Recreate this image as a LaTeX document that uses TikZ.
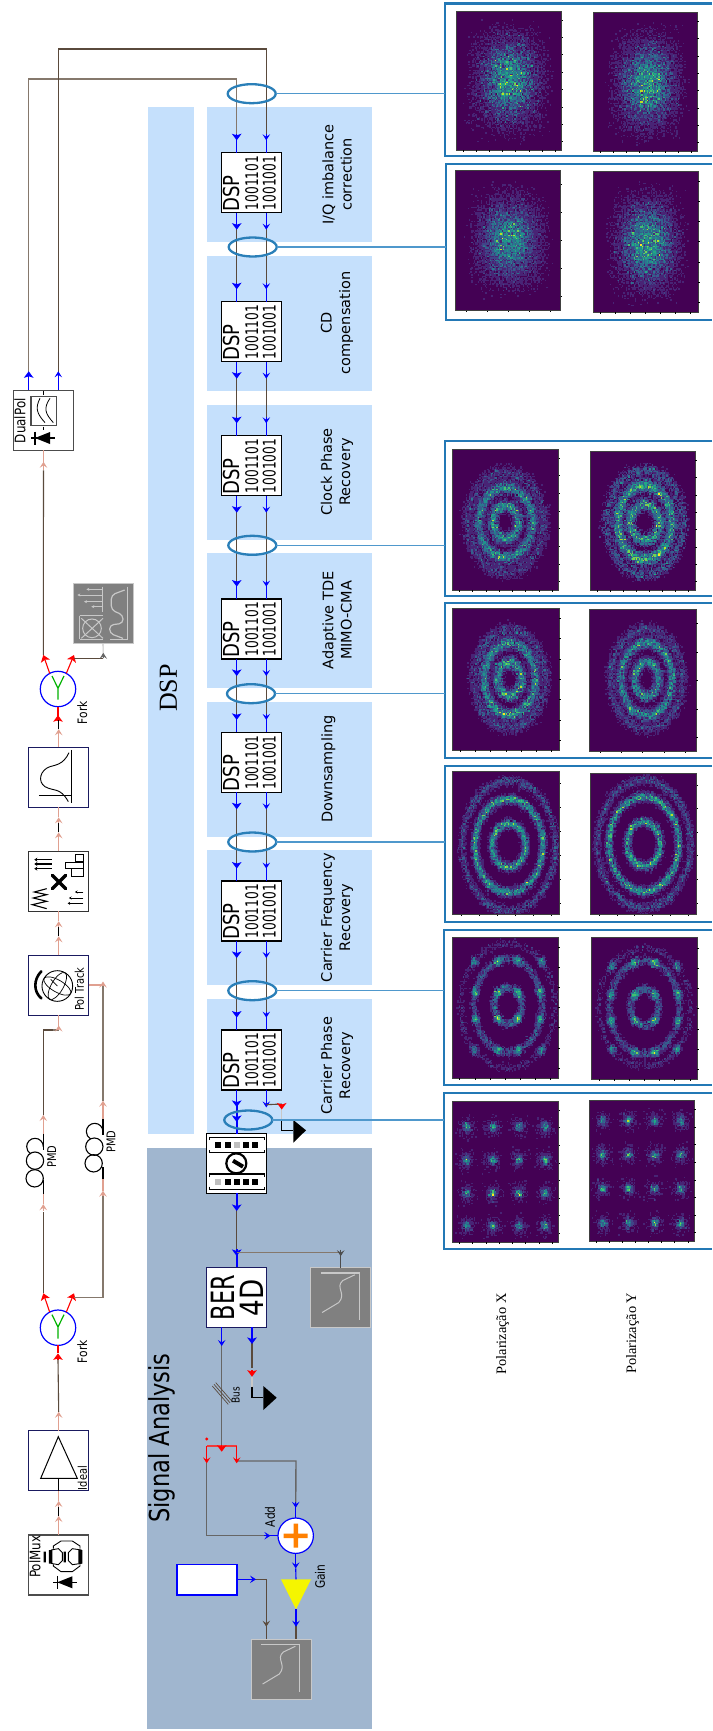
\documentclass[tikz,border=0pt]{standalone}
\usepackage{fontspec}
\usetikzlibrary{arrows.meta,calc,shapes.geometric}
\setmainfont{DejaVu Sans}
\newfontfamily\fontNA[FakeStretch=0.7]{DejaVu Sans}
\newfontfamily\fontNB[FakeStretch=0.82]{DejaVu Sans}
\newfontfamily\fontSR{Liberation Serif}
\newcommand\fsz[1]{\fontsize{#1pt}{18.3pt}\selectfont}
\definecolor{bandblue}{HTML}{C5E0FC}
\definecolor{sigbg}{HTML}{A0B6CF}
\definecolor{ellc}{HTML}{2A7FB8}
\definecolor{linkc}{HTML}{4F98CC}
\definecolor{framec}{HTML}{2378B5}
\definecolor{wirebr}{HTML}{5A4A3C}
\definecolor{wirelt}{HTML}{85786C}
\definecolor{salm}{HTML}{E0A090}
\definecolor{wiregr}{HTML}{666666}
\definecolor{navyb}{HTML}{1A1A60}
\definecolor{vir0}{HTML}{440154}
\definecolor{grayb}{HTML}{808080}
\definecolor{grayl}{HTML}{C8C8C8}
\definecolor{redl}{HTML}{F03A3A}
\definecolor{gainy}{HTML}{F5F500}
\makeatletter
\def\hmraw#1{\pgfsys@invoke{#1}}
\def\hmstrip#1{\expandafter\strip@pt\dimexpr#1\relax}
\makeatother
% small random generator (Park-Miller by Schrage)
\newcount\hmrnd \hmrnd=20240607
\newcount\hmrndh
\def\nextrnd{\hmrndh=\numexpr(\hmrnd-63886)/127773\relax
 \hmrnd=\numexpr16807*(\hmrnd-\hmrndh*127773)-2836*\hmrndh\relax
 \ifnum\hmrnd<0 \advance\hmrnd 2147483647 \fi}
\newcount\hmXo \newcount\hmYo \newcount\hmW \newcount\hmH \newcount\hmMax
\newcount\hmsx \newcount\hmsy \newcount\hmbi \newcount\hmbj \newcount\hmbk
\newcount\hmgA \newcount\hmgB \newcount\hmN \newcount\hmCx \newcount\hmCy
\newcount\hmRa \newcount\hmRb \newcount\hmRc \newcount\hmRd \newcount\hmRe \newcount\hmRf
\newcount\hmsel \newcount\hmth \newcount\hmcsel \newcount\hmrx \newcount\hmry \newcount\hmkind
\newcount\hmlev \newcount\hmGi \newcount\hmGj
\def\hmgauss#1{\nextrnd #1=\numexpr\hmrnd/2097152\relax
  \nextrnd\advance#1 by \numexpr\hmrnd/2097152\relax
  \nextrnd\advance#1 by \numexpr\hmrnd/2097152-1536\relax}
\def\hmadd{%
 \hmbi=\numexpr\hmsx*8/\hmW\relax
 \hmbj=\numexpr\hmsy*10/\hmH\relax
 \ifnum\hmsx<0 \else\ifnum\hmsy<0 \else\ifnum\hmbi<80 \ifnum\hmbj<100
   \hmbk=\numexpr22000+\hmbi+80*\hmbj\relax
   \advance\count\hmbk 1
   \ifnum\count\hmbk>\hmMax \hmMax=\count\hmbk\fi
 \fi\fi\fi\fi}
\newcommand\hmsig[3]{\def\hmsigX{#1}\def\hmsigY{#2}\def\hmconc{#3}}
\newcommand\hmblob[5]{\hmN=#1 \hmCx=#2 \hmCy=#3 \hmsig{#4}{#5}{0}\hmblobloop}
\def\hmblobloop{\ifnum\hmN>0 \advance\hmN -1
  \hmgauss\hmgA \hmgauss\hmgB
  \hmsx=\numexpr(\hmCx-\hmXo)*10+\hmsigX*\hmgA/51\relax
  \hmsy=\numexpr(\hmCy-\hmYo)*10+\hmsigY*\hmgB/51\relax
  \hmadd \expandafter\hmblobloop\fi}
\newcommand\hmrings[9]{\hmN=#1 \hmCx=#2 \hmCy=#3 \hmRa=#4 \hmRb=#5 \hmRc=#6 \hmRd=#7 \hmRe=#8 \hmRf=#9 \hmringloop}
\def\hmringloop{\ifnum\hmN>0 \advance\hmN -1
  \nextrnd \hmsel=\numexpr\hmrnd/21474836\relax
  \nextrnd \hmth=\numexpr\hmrnd/33554432\relax
  \nextrnd \hmcsel=\numexpr\hmrnd/21474836\relax
  \nextrnd
  \ifnum\hmsel<25 \hmrx=\hmRa \hmry=\hmRb \hmkind=1
  \else\ifnum\hmsel<75 \hmrx=\hmRc \hmry=\hmRd \hmkind=2
  \else \hmrx=\hmRe \hmry=\hmRf \hmkind=1 \fi\fi
  \ifnum\hmcsel<\hmconc\relax
    \hmth=\numexpr8+16*((\hmth-8)/16)\relax
    \ifnum\hmkind=2 \ifnum\hmrnd<1073741824 \advance\hmth 5 \else\advance\hmth -5 \fi\fi
  \fi
  \hmth=\numexpr\hmth+64\relax
  \hmth=\numexpr\hmth-64*((\hmth-32)/64)\relax
  \hmgauss\hmgA \hmgauss\hmgB
  \hmsx=\numexpr(\hmCx-\hmXo)*10+\hmrx*\count\numexpr21000+\hmth\relax/100+\hmsigX*\hmgA/51\relax
  \hmsy=\numexpr(\hmCy-\hmYo)*10+\hmry*\count\numexpr21048+\hmth\relax/100+\hmsigY*\hmgB/51\relax
  \hmadd \expandafter\hmringloop\fi}
\newcommand\hmgrid[5]{\hmN=#1 \def\hmgx{#2}\def\hmgy{#3}\def\hmdx{#4}\def\hmdy{#5}\hmgridloop}
\def\hmgridloop{\ifnum\hmN>0 \advance\hmN -1
  \nextrnd \hmGi=\numexpr(\hmrnd-268435456)/536870912\relax
  \nextrnd \hmGj=\numexpr(\hmrnd-268435456)/536870912\relax
  \nextrnd \hmsel=\numexpr\hmrnd/21474836\relax
  \ifnum\hmsel<60 \hmsig{20}{24}{0}\else\hmsig{45}{50}{0}\fi
  \hmgauss\hmgA \hmgauss\hmgB
  \hmsx=\numexpr(\hmgx+\hmGi*\hmdx-\hmXo)*10+\hmsigX*\hmgA/51\relax
  \hmsy=\numexpr(\hmgy+\hmGj*\hmdy-\hmYo)*10+\hmsigY*\hmgB/51\relax
  \hmadd \expandafter\hmgridloop\fi}
\expandafter\def\csname hmc0\endcsname{.267 .005 .329 rg}
\expandafter\def\csname hmc1\endcsname{.282 .141 .459 rg}
\expandafter\def\csname hmc2\endcsname{.255 .267 .529 rg}
\expandafter\def\csname hmc3\endcsname{.208 .373 .553 rg}
\expandafter\def\csname hmc4\endcsname{.165 .471 .557 rg}
\expandafter\def\csname hmc5\endcsname{.129 .569 .549 rg}
\expandafter\def\csname hmc6\endcsname{.133 .659 .518 rg}
\expandafter\def\csname hmc7\endcsname{.267 .749 .439 rg}
\expandafter\def\csname hmc8\endcsname{.478 .82 .318 rg}
\expandafter\def\csname hmc9\endcsname{.741 .875 .149 rg}
\expandafter\def\csname hmc10\endcsname{.992 .906 .145 rg}
\def\hmrowloop{%
 \ifnum\hmbi<80
   \hmbk=\numexpr22000+\hmbi+80*\hmbj\relax
   \ifnum\count\hmbk>0
      \hmlev=\numexpr\count\hmbk*10/\hmMax\relax
      \ifnum\hmlev>0
      \edef\hmbuf{\hmbuf\space\csname hmc\the\hmlev\endcsname\space\the\hmbi\space\the\hmbj\space 1.06 1.06 re f}%
      \fi
      \count\hmbk=0
   \fi
   \advance\hmbi 1
   \expandafter\hmrowloop
 \fi}
\def\hmloop{%
 \ifnum\hmbj<100
   \hmbi=0 \edef\hmbuf{q \hmcm\space cm}%
   \hmrowloop
   \hmraw{\hmbuf\space Q}%
   \advance\hmbj 1
   \expandafter\hmloop
 \fi}
% panel: corners in tenths of a pixel, tick counts
\newcommand\hmpanel[6]{%
 \def\pxa{#1}\def\pya{#2}\def\pxb{#3}\def\pyb{#4}\def\pnb{#5}\def\pnr{#6}%
 \hmXo=#1 \hmYo=#2 \hmW=\numexpr#3-#1\relax \hmH=\numexpr#4-#2\relax \hmMax=0
 \fill[vir0] ({#1/10},{#2/10}) rectangle ({#3/10},{#4/10});}
\newcommand\hmdone{%
 \edef\hmcm{\hmstrip{\hmW pt*99626/80000000} 0 0 -\hmstrip{\hmH pt*99626/100000000} \hmstrip{\hmXo pt*99626/1000000} -\hmstrip{\hmYo pt*99626/1000000}}%
 \hmbj=0 \hmloop
 \draw[black!75!white,line width=.7pt] ({\pxa/10},{\pya/10}) rectangle ({\pxb/10},{\pyb/10});
 \foreach \k in {1,...,\pnb} \draw[black,line width=.4pt] ({(\pxa+(\pxb-\pxa)*(\k-.5)/\pnb)/10},{\pyb/10}) -- ++(0,1.6);
 \foreach \k in {1,...,\pnr} \draw[black,line width=.4pt] ({\pxb/10},{(\pya+(\pyb-\pya)*(\k-.5)/\pnr)/10}) -- ++(1.6,0);
}
\tikzset{
 bigh/.style={-{Stealth[length=6.5pt,width=9.5pt,inset=1.5pt]}},
 smh/.style={-{Stealth[length=6pt,width=7.5pt,inset=2.5pt]}},
 wt/.style={line width=1.1pt},
 blkbox/.style={draw=#1,fill=white,line width=1.1pt,minimum size=60pt,inner sep=0pt,outer sep=0pt},
 graybox/.style={draw=grayl,fill=grayb,line width=1pt,minimum size=60pt,inner sep=0pt,outer sep=0pt},
 band/.style={fill=bandblue,draw=none},
 fr/.style={draw=framec,line width=2.3pt,line join=miter},
 ell/.style={ellipse,draw=ellc,line width=2.3pt,minimum width=48pt,minimum height=19pt,inner sep=0pt,outer sep=0pt},
 lnk/.style={draw=linkc,line width=1.2pt},
 rt/.style={rotate=90,inner sep=0pt,outer sep=0pt},
 steplabel/.style={rt,align=center,font=\fsz{14.5}},
 forkc/.style={circle,draw=blue,fill=white,line width=1.2pt,minimum size=35.4pt,inner sep=0pt,outer sep=0pt},
 ic/.style={line width=1pt,black},
 igl/.style={line width=1pt,grayl},
}
% double-arrow salmon link
\newcommand\twohead[2]{%
 \draw[salm,wt,smh] (#1) -- ($(#1)+(0,-19)$);
 \draw[black,wt] ($(#1)+(0,-19)$) -- ($(#1)+(0,-28)$);
 \draw[salm,wt,smh] ($(#1)+(0,-28)$) -- ($(#1)+(0,-34)$);
 \draw[salm,wt] ($(#1)+(0,-34)$) -- (#2);
}
\newcommand\dspblock[2]{%
 \node[blkbox=black] (dsp#1) at (251.3,#2+30) {};
 \coordinate (dsp#1ai) at ($(dsp#1.north)+(-14.6,0)$);
 \coordinate (dsp#1bi) at ($(dsp#1.north)+(15,0)$);
 \coordinate (dsp#1ao) at ($(dsp#1.south)+(-14.6,0)$);
 \coordinate (dsp#1bo) at ($(dsp#1.south)+(15,0)$);
 \node[rt,font=\fontNB\fsz{22}] (dsp#1t) at (231.7,#2+40.7) {DSP};
 \node[rt,font=\fontNA\fsz{17.4}] (dsp#1u) at (251.7,#2+30.3) {1001101};
 \node[rt,font=\fontNA\fsz{17.4}] (dsp#1v) at (269.3,#2+30.3) {1001001};
}
\newcommand\dspin[1]{%
 \draw[blue,wt] ($(dsp#1ai)+(0,-18)$) -- (dsp#1ai);
 \draw[blue,wt] ($(dsp#1bi)+(0,-18)$) -- (dsp#1bi);
 \draw[blue,wt,bigh] ($(dsp#1ai)+(0,-18.5)$) -- ($(dsp#1ai)+(0,-12.4)$);
 \draw[blue,wt,smh] ($(dsp#1bi)+(0,-18.5)$) -- ($(dsp#1bi)+(0,-12.4)$);
}
\newcommand\dsplink[2]{%
 \draw[wirebr,wt] ($(dsp#1ao)+(0,12)$) -- ($(dsp#2ai)+(0,-18)$);
 \draw[wirebr,wt] ($(dsp#1bo)+(0,12)$) -- ($(dsp#2bi)+(0,-18)$);
 \draw[blue,wt,bigh] (dsp#1ao) -- ($(dsp#1ao)+(0,17)$);
 \draw[blue,wt,smh] (dsp#1bo) -- ($(dsp#1bo)+(0,17)$);
 \dspin{#2}
}
\newcommand\curvepic[1]{%
 \draw[igl,line width=1.2pt] ($(#1.north west)+(10,5.5)$) -- ($(#1.north west)+(48.3,5.5)$) -- ($(#1.north west)+(48.3,52.5)$);
 \draw[igl] ($(#1.north west)+(11.3,45)$) -- ($(#1.north west)+(28,35)$) .. controls ($(#1.north west)+(36,26)$) and ($(#1.north west)+(24,20)$) .. ($(#1.north west)+(32,13)$) -- ($(#1.north west)+(44,7.3)$);
}
\newcommand\diode[2]{% centre of the bar x, y
 \draw[black,line width=1.2pt] (#1-4,#2) -- (#1+20,#2);
 \draw[black,line width=1.6pt] (#1,#2-6.5) -- (#1,#2+6.5);
 \fill[black] (#1,#2) -- (#1+15,#2-6) -- (#1+15,#2+6) -- cycle;
}
\begin{document}
\begin{tikzpicture}[x=1pt,y=-1pt]
\useasboundingbox (0,0) rectangle (712,1731);
\foreach \i in {0,...,127}{\pgfmathtruncatemacro\hmv{1000*cos(\i*5.625)}\global\count\numexpr21000+\i\relax=\hmv\relax}
% ---- background bands
\fill[band] (148,107) rectangle (194,1133.7);
\fill[band] (207,107) rectangle (372,241.7);
\fill[band] (207,256) rectangle (372,390.7);
\fill[band] (207,405) rectangle (372,539.7);
\fill[band] (207,553) rectangle (372,687.7);
\fill[band] (207,702) rectangle (372,836.7);
\fill[band] (207,850) rectangle (372,984.7);
\fill[band] (207,999) rectangle (372,1133.7);
\fill[sigbg] (147,1148) rectangle (372,1729);
\node[rt,font=\fontSR\fsz{26}] (dsptitle) at (168.3,688) {DSP};
\node[rt,font=\fontNB\fsz{27.5}] (sigtitle) at (161.7,1438) {Signal Analysis};
\node[steplabel] (lb1) at (337,174.5) {I/Q imbalance\\correction};
\node[steplabel] (lb2) at (337,323) {CD\\compensation};
\node[steplabel] (lb3) at (337,472) {Clock Phase\\Recovery};
\node[steplabel] (lb4) at (337,620.5) {Adaptive TDE\\MIMO-CMA};
\node[steplabel] (lb5) at (328.3,769) {Downsampling};
\node[steplabel] (lb6) at (337,917.5) {Carrier Frequency\\Recovery};
\node[steplabel] (lb7) at (337,1065.7) {Carrier Phase\\Recovery};
% ---- DSP blocks
\dspblock{1}{152.7}
\dspblock{2}{301.7}
\dspblock{3}{435.7}
\dspblock{4}{599}
\dspblock{5}{732.3}
\dspblock{6}{881}
\dspblock{7}{1030}
\dsplink{1}{2}
\dsplink{2}{3}
\dsplink{3}{4}
\dsplink{4}{5}
\dsplink{5}{6}
\dsplink{6}{7}
% ---- front-end blocks
\node[blkbox=black!70] (dualpol) at (43.5,420.3) {};
\node[blkbox=navyb] (filter) at (58.7,777.2) {};
\node[blkbox=black!80] (mixer) at (58.7,881.4) {};
\node[blkbox=navyb] (poltrack) at (58.7,985.3) {};
\node[blkbox=navyb] (amp) at (58.7,1460.8) {};
\node[blkbox=black!70] (polmux) at (58.7,1565) {};
\node[forkc] (fork2) at (58,689) {};
\node[forkc] (fork1) at (58,1327.7) {};
\node[graybox] (spect) at (103,613.7) {};
% outputs of the receiver to the first DSP
\coordinate (dpa) at ($(dualpol.north)+(-14.8,0)$);
\coordinate (dpb) at ($(dualpol.north)+(14.8,0)$);
\coordinate (turna) at (236.7,79);
\coordinate (turnb) at (266.3,49);
\draw[wirelt,line width=1.4pt] ($(dpa)+(0,-14)$) |- (turna) -- ($(dsp1ai)+(0,-18)$);
\draw[wirebr,wt] ($(dpb)+(0,-14)$) |- (turnb) -- ($(dsp1bi)+(0,-18)$);
\draw[blue,wt,bigh] (dpa) -- ($(dpa)+(0,-19)$);
\draw[blue,wt,smh] (dpb) -- ($(dpb)+(0,-19)$);
\dspin{1}
% fork 2 to receiver and spectrum
\coordinate (f2l) at (43.3,655);
\coordinate (f2r) at (74,655);
\coordinate (f2rc) at (103.3,658.3);
\draw[wirebr,wt] (f2l) -- ($(dualpol.south)+(0,20)$);
\draw[salm,wt,smh] ($(dualpol.south)+(0,20)$) -- ($(dualpol.south)+(0,11.5)$);
\draw[salm,wt] ($(dualpol.south)+(0,11.5)$) -- (dualpol.south);
\draw[red,wt,bigh] (fork2.118) -- (f2l);
\draw[red,wt,bigh] (fork2.62) -- (f2r);
\draw[wirebr,wt] (f2r |- f2rc) -- (f2rc);
\draw[grayl,wt] (f2rc) -- (spect.south);
\draw[wiregr,wt,smh] (f2rc) -- ($(f2rc)+(0,-5.5)$);
\draw[red,wt] ($(fork2.south)+(0,9)$) -- (fork2.south);
\draw[red,wt,bigh] ($(fork2.south)+(0,14.5)$) -- ($(fork2.south)+(0,8.5)$);
\draw[black,wt] ($(filter.north)+(0,-18)$) -- ($(filter.north)+(0,-27)$);
\draw[salm,wt,smh] (filter.north) -- ($(filter.north)+(0,-18)$);
\twohead{mixer.north}{filter.south}
\twohead{poltrack.north}{mixer.south}
\twohead{polmux.north}{amp.south}
% amp to fork 1
\draw[salm,wt,smh] (amp.north) -- ($(amp.north)+(0,-19)$);
\draw[wirebr,wt] ($(amp.north)+(0,-19)$) -- ($(fork1.south)+(0,14.5)$);
\draw[red,wt,bigh] ($(fork1.south)+(0,14.5)$) -- ($(fork1.south)+(0,8)$);
\draw[red,wt] ($(fork1.south)+(0,8)$) -- (fork1.south);
% fork 1 branches through the two PMD coils
\coordinate (f1l) at (43.3,1293.3);
\coordinate (f1r) at (74,1293.3);
\coordinate (c1b) at (43.3,1192.7);
\coordinate (c1t) at (43.3,1134);
\coordinate (c2b) at (103,1178);
\coordinate (c2t) at (103,1119);
\coordinate (ptin) at (58.7,1030);
\coordinate (ptr) at (103,985);
\coordinate (f1rc) at (103,1297.3);
\draw[wirebr,wt] (f1l) -- ($(c1b)+(0,19)$);
\draw[salm,wt,smh] ($(c1b)+(0,18)$) -- ($(c1b)+(0,11.5)$);
\draw[salm,wt] ($(c1b)+(0,11.5)$) -- (c1b);
\draw[red,wt,bigh] (fork1.118) -- (f1l);
\draw[red,wt,bigh] (fork1.62) -- (f1r);
\draw[wirelt,line width=1.4pt] (f1r |- f1rc) -- (f1rc) -- ($(c2b)+(0,18)$);
\draw[salm,wt,smh] ($(c2b)+(0,18)$) -- ($(c2b)+(0,12.7)$);
\draw[salm,wt] ($(c2b)+(0,12.7)$) -- (c2b);
\draw[salm,wt] (c1t) -- ($(c1t)+(0,-12)$);
\draw[salm,wt,smh] ($(c1t)+(0,-12)$) -- ($(c1t)+(0,-19)$);
\draw[wirebr,wt] ($(c1t)+(0,-19)$) |- ($(ptin)+(-6,0)$);
\draw[wirelt,line width=1.4pt] ($(ptin)+(-6,0)$) -- (ptin);
\draw[salm,wt,smh] (ptin) -- ($(ptin)+(0,-4.5)$);
\draw[salm,wt] ($(ptin)+(0,-4.5)$) -- (poltrack.south);
\draw[salm,wt] (c2t) -- ($(c2t)+(0,-13)$);
\draw[salm,wt,smh] ($(c2t)+(0,-12)$) -- ($(c2t)+(0,-18.3)$);
\draw[wirelt,line width=1.4pt] ($(c2t)+(0,-18.3)$) -- (ptr);
\draw[salm,wt] (ptr) -- (poltrack.east |- ptr);
\draw[salm,wt,smh] (ptr) -- ($(ptr)+(0,-3.5)$);
% coils
\begin{scope}[shift={(0,950)},x=.3333pt,y=-.3333pt]
 \draw[black,line width=1.1pt] (130,732) -- (130,690) (130,552) -- (130,600);
 \draw[black,line width=1.1pt] (104,685) circle[radius=26];
 \draw[black,line width=1.1pt] (105,632) circle[radius=26];
 \draw[black,line width=1.1pt] (130,590) arc (0:-240:25);
 \draw[black,line width=1.1pt] (309,686) -- (309,650) (309,508) -- (309,555);
 \draw[black,line width=1.1pt] (281,640) circle[radius=26];
 \draw[black,line width=1.1pt] (283,590) circle[radius=26];
 \draw[black,line width=1.1pt] (309,545) arc (0:-240:25);
\end{scope}
\node[rt,font=\fontNB\fsz{12}] (pmd1) at (51.7,1156.7) {PMD};
\node[rt,font=\fontNB\fsz{12}] (pmd2) at (111,1141.7) {PMD};
% fork glyphs
\draw[green!70!black,line width=1.2pt] (52,1314.7) -- (58,1327) -- (64,1314.7) (58,1327) -- (58,1338.7);
\draw[green!70!black,line width=1.2pt] (52,676) -- (58,688.3) -- (64,676) (58,688.3) -- (58,699.7);
\node[rt,font=\fontNB\fsz{13}] (fk1) at (82.3,1351.7) {Fork};
\node[rt,font=\fontNB\fsz{13}] (fk2) at (82.3,712.7) {Fork};
% DualPol icon
\begin{scope}[shift={(0,0)},x=.3333pt,y=-.3333pt]
 \draw[black!70,line width=1.1pt] (93,1190) rectangle (169,1277);
 \draw[black,line width=.8pt] (131,1174) -- (131,1186) (131,1280) -- (131,1290);
 \draw[black,line width=.8pt] (120,1195) .. controls (105,1225) and (110,1240) .. (135,1268);
 \draw[black,line width=.8pt] (150,1195) .. controls (130,1225) and (135,1240) .. (160,1268);
\end{scope}
\diode{35}{438}
\node[rt,font=\fontNB\fsz{14.5}] (dptx) at (20,420.7) {DualPol};
% filter icon
\begin{scope}[shift={(0,500)},x=.3333pt,y=-.3333pt]
 \draw[black,line width=.9pt] (213,750) -- (213,908) (117,885) -- (213,885);
 \draw[black,line width=.9pt] (207,758) .. controls (190,795) and (165,795) .. (150,800) .. controls (120,810) and (112,845) .. (135,860) .. controls (160,875) and (180,860) .. (205,905);
\end{scope}
% mixer icon
\begin{scope}[shift={(25,848)},x=.3333pt,y=-.3333pt]
 \draw[black,line width=1.6pt,-{Stealth[length=3pt,width=4pt]}] (80,35) -- (28,35);
 \draw[black,line width=1.6pt,-{Stealth[length=3pt,width=4pt]}] (80,48) -- (28,48);
 \draw[black,line width=1.6pt,-{Stealth[length=3pt,width=4pt]}] (80,62) -- (28,62);
 \draw[black,line width=.9pt] (150,20) rectangle (175,40) (122,42) rectangle (175,62) (140,62) rectangle (175,85);
 \draw[black,line width=3.2pt,line cap=round] (82,82) -- (122,122) (82,122) -- (122,82);
 \draw[black,line width=1.1pt] (65,122) -- (28,132) -- (65,140) -- (25,150) -- (65,160) -- (22,170) -- (65,182);
 \draw[black,line width=.9pt,-{Stealth[length=2.5pt,width=3pt]}] (175,132) -- (150,132);
 \draw[black,line width=.9pt,-{Stealth[length=2.5pt,width=3pt]}] (175,150) -- (132,150);
 \draw[black,line width=.9pt,-{Stealth[length=2.5pt,width=3pt]}] (175,166) -- (128,166);
\end{scope}
% pol track icon
\begin{scope}[shift={(0,950)},x=.3333pt,y=-.3333pt]
 \draw[black,line width=.9pt] (172,108) circle[radius=46];
 \draw[black,line width=.7pt,rotate around={-30:(172,108)}] (172,108) ellipse[x radius=46,y radius=18];
 \draw[black,line width=.7pt,rotate around={-30:(172,108)}] (172,108) ellipse[x radius=18,y radius=46];
 \draw[black,line width=2.6pt,line cap=round] (124,64) .. controls (100,88) and (100,125) .. (124,145);
 \draw[black,line width=.8pt] (172,108) -- (152,88);
\end{scope}
\node[rt,font=\fontNB\fsz{12}] (pttx) at (79.3,989.3) {Pol Track};
% amp icon
\draw[black,line width=1pt] (58.3,1436.7) -- (77.3,1478.3) -- (40.7,1478.3) -- cycle;
\draw[black,line width=1pt] (58.3,1478.3) -- (58.3,1491);
\node[rt,font=\fontNB\fsz{12}] (idl) at (82.3,1478) {Ideal};
% polmux icon
\begin{scope}[shift={(25,1530)},x=.3333pt,y=-.3333pt]
 \draw[black,line width=.9pt] (85,56) -- (85,48) -- (108,33) -- (142,33) -- (165,48) -- (165,56);
 \draw[black,line width=.9pt] (85,103) -- (85,108) -- (108,125) -- (142,125) -- (165,108) -- (165,103);
 \draw[black,line width=.9pt] (78,60) -- (100,56) -- (112,68) -- (112,92) -- (100,104) -- (78,100);
 \draw[black,line width=.9pt] (170,60) -- (142,56) -- (130,68) -- (130,92) -- (142,104) -- (170,100);
 \fill[black] (56,65) rectangle (63,97) (72,60) rectangle (82,101) (116,65) rectangle (123,97) (160,60) rectangle (172,101);
\end{scope}
\diode{57.3}{1582.3}
\node[rt,font=\fontNB\fsz{14.5}] (pmtx) at (35,1556.7) {PolMux};
% spectrum icon
\begin{scope}[shift={(68,580)},x=.3333pt,y=-.3333pt]
 \draw[igl] (105,20) -- (105,95);
 \draw[igl,-{Stealth[length=3pt,width=3pt]}] (105,28) -- (55,28);
 \draw[igl,-{Stealth[length=3pt,width=3pt]}] (105,45) -- (28,45);
 \draw[igl,-{Stealth[length=3pt,width=3pt]}] (105,65) -- (48,65);
 \draw[igl,-{Stealth[length=3pt,width=3pt]}] (105,80) -- (70,80);
 \draw[igl] (35,107) -- (105,107) (35,107) -- (35,178) (35,178) -- (105,178);
 \draw[igl] (72,145) circle[radius=28];
 \draw[igl] (40,115) -- (105,175) (40,175) -- (105,115);
 \draw[igl,line width=1.2pt] (178,20) -- (178,178) -- (125,178);
 \draw[igl,rounded corners=4pt,line width=1.2pt] (170,30) -- (130,45) -- (130,90) -- (165,105) -- (165,130) -- (125,135) -- (125,160) -- (165,175);
\end{scope}
% ---- mux block, BER and analysis chain
\node[blkbox=black] (mux) at (236.8,1163.5) {};
\begin{scope}[shift={(203,1130)},x=.3333pt,y=-.3333pt]
 \draw[black,line width=1.2pt] (20,30) -- (20,22) -- (185,22) -- (185,30);
 \draw[black,line width=1.2pt] (20,60) -- (20,68) -- (185,68) -- (185,60);
 \draw[black,line width=1.2pt] (20,140) -- (20,132) -- (185,132) -- (185,140);
 \draw[black,line width=1.2pt] (20,170) -- (20,178) -- (185,178) -- (185,170);
 \foreach \xx in {45,75,128,157}{\fill[black] (\xx-9,36) rectangle (\xx+9,54);}
 \fill[black!25] (93,36) rectangle (111,54);
 \foreach \xx in {75,102,128,157}{\fill[black] (\xx-9,148) rectangle (\xx+9,166);}
 \fill[black!25] (36,148) rectangle (54,166);
 \draw[black,line width=2.2pt] (100,100) circle[radius=30];
 \draw[black,line width=4pt] (90,92) -- (120,110);
\end{scope}
\node[blkbox=navyb] (ber) at (236.8,1297.3) {};
\node[rt,font=\fontNA\fsz{32}] (bert) at (223,1297.7) {BER};
\node[rt,font=\fontNB\fsz{32}] (berf) at (251.7,1297.7) {4D};
\node[graybox] (sc1) at (340.8,1297.5) {};
\curvepic{sc1}
\node[graybox] (sc2) at (281.3,1669) {};
\curvepic{sc2}
% dsp7 outputs
\coordinate (muxin) at (236.7,1133.5);
\draw[blue,line width=2pt] ($(dsp7ao)+(0,14)$) -- (muxin);
\draw[blue,wt,bigh] (dsp7ao) -- ($(dsp7ao)+(0,17)$);
\draw[blue,wt,bigh] ($(muxin)+(0,-18)$) -- ($(muxin)+(0,-11.5)$);
\draw[blue,wt,smh] (dsp7bo) -- ($(dsp7bo)+(0,17.4)$);
\coordinate (gnd1) at (293.3,1130.3);
\coordinate (rd1) at (281.7,1104);
\draw[wirebr,wt] ($(dsp7bo)+(0,14.7)$) -- (rd1);
\draw[grayl,wt] (rd1) -- ($(rd1)+(0,15)$);
\draw[black,wt] ($(rd1)+(0,15)$) |- (gnd1);
\draw[red,wt,bigh] (rd1) -- ($(rd1)+(0,5.5)$);
\fill[black] (293.3,1120) -- (293.3,1142.7) -- (306,1130.3) -- cycle;
% mux to BER
\coordinate (bern) at (236.7,1267.3);
\coordinate (muxo) at (236.7,1193.3);
\draw[wirebr,wt] ($(muxo)+(0,14)$) -- ($(bern)+(0,-18)$);
\draw[blue,line width=2pt,bigh] (muxo) -- ($(muxo)+(0,17.7)$);
\draw[blue,line width=2pt] ($(bern)+(0,-18)$) -- (bern);
\draw[blue,wt,bigh] ($(bern)+(0,-18)$) -- ($(bern)+(0,-11.3)$);
\coordinate (tap) at (340.7,1252.7);
\draw[wirelt,line width=1.4pt] (muxo |- tap) -- (tap);
\draw[black!70,wt] (tap) -- (sc1.north -| tap);
\draw[black!70,wt,smh] ($(tap)+(0,-3)$) -- ($(tap)+(0,3.5)$);
% BER outputs
\coordinate (bera) at (221.7,1327.3);
\coordinate (berb) at (252,1327.3);
\coordinate (busr) at (221.7,1446);
\coordinate (gnd2) at (263.3,1397.7);
\coordinate (rd2) at (252,1368);
\draw[wiregr,wt] ($(bera)+(0,15)$) -- (busr);
\draw[wirebr,wt] ($(berb)+(0,15)$) -- (rd2);
\draw[blue,wt,smh] (bera) -- ($(bera)+(0,18.7)$);
\draw[blue,line width=1.7pt,bigh] (berb) -- ($(berb)+(0,16.7)$);
\draw[red,wt,bigh] ($(rd2)+(0,2)$) -- ($(rd2)+(0,8.7)$);
\draw[grayl,wt] ($(rd2)+(0,8.7)$) -- ($(rd2)+(0,18.7)$);
\draw[black,wt] ($(rd2)+(0,18.7)$) |- (gnd2);
\fill[black] (263.3,1386) -- (263.3,1410) -- (276.7,1397.7) -- cycle;
\draw[wirebr,line width=.7pt] (214,1384.3) -- (230,1402.7) (215.7,1382.6) -- (231.7,1401) (212.3,1386) -- (228.3,1404.4);
\node[rt,font=\fontNB\fsz{11}] (bustx) at (235.7,1395) {Bus};
% splitter
\coordinate (spl) at (206.7,1463.3);
\coordinate (spr) at (236.7,1463.3);
\coordinate (add1) at (206.7,1535.7);
\coordinate (add2) at (296,1461);
\node[forkc] (adder) at (295.7,1535.7) {};
\fill[orange] (283.7,1533.5) rectangle (307.7,1538) (293.5,1523.7) rectangle (298,1547.7);
\draw[wiregr,line width=1.4pt] (spl) -- (add1) -- ($(adder.west)+(-10,0)$);
\draw[wiregr,line width=1.4pt] (spr |- add2) -- (add2) -- ($(adder.north)+(0,-12)$);
\draw[blue,wt] ($(adder.west)+(-14,0)$) -- (adder.west);
\draw[blue,wt,smh] ($(adder.west)+(-14,0)$) -- ($(adder.west)+(-7.6,0)$);
\draw[blue,wt] ($(adder.north)+(0,-16)$) -- (adder.north);
\draw[blue,wt,smh] ($(adder.north)+(0,-16)$) -- ($(adder.north)+(0,-10.2)$);
\draw[redl,line width=1.4pt] (spl |- busr) -- (spr |- busr);
\draw[red,line width=1.2pt,smh] (spl |- busr) -- (spl);
\draw[red,line width=1.2pt,smh] (spr |- busr) -- (spr);
\draw[red,wt,bigh] ($(busr)+(0,-1)$) -- ($(busr)+(0,5.7)$);
\fill[red] (206.7,1439) circle[radius=1.6];
\node[rt,font=\fontNB\fsz{13}] (addtx) at (270,1516.7) {Add};
% gain
\coordinate (gtop) at (296,1579.3);
\coordinate (gbot) at (296,1609.3);
\fill[gainy] (281,1579.3) -- (311,1579.3) -- (gbot) -- cycle;
\node[rt,font=\fontNB\fsz{13}] (gaintx) at (320,1576.7) {Gain};
\draw[blue,wt,smh] (adder.south) -- ($(adder.south)+(0,15)$);
\draw[blue,wt] ($(adder.south)+(0,15)$) -- (gtop);
\draw[wirebr,wt] ($(gbot)+(0,14)$) -- (sc2.north -| gbot);
\draw[blue,wt] (gbot) -- ($(gbot)+(0,15)$);
\draw[blue,wt,smh] ($(gbot)+(0,11)$) -- ($(gbot)+(0,17.4)$);
% constant box
\node[draw=blue,fill=white,line width=1.4pt,minimum width=60pt,minimum height=30.3pt,inner sep=0pt,outer sep=0pt] (cst) at (207,1579.8) {};
\coordinate (cstw) at (266.3,1579.3);
\draw[wirebr,wt] ($(cst.east)+(17,-.5)$) -- (cstw) -- (cstw |- sc2.north);
\draw[blue,wt,smh] (cst.east |- cstw) -- ($(cst.east |- cstw)+(19,0)$);
\draw[wirebr,wt,smh] (266.3,1620.5) -- (266.3,1626.7);
% ---- right hand frames
\draw[fr] (712,3.5) -- (445,3.5) -- (445,155.7) -- (712,155.7);
\draw[fr] (712,164.3) -- (446,164.3) -- (446,320) -- (712,320);
\draw[fr] (712,441.3) -- (444.7,441.3) -- (444.7,596) -- (712,596);
\draw[fr] (712,603) -- (444.7,603) -- (444.7,758) -- (712,758);
\draw[fr] (712,766) -- (445,766) -- (445,921.7) -- (712,921.7);
\draw[fr] (712,929.7) -- (444.3,929.7) -- (444.3,1085.3) -- (712,1085.3);
\draw[fr] (712,1092.7) -- (444.3,1092.7) -- (444.3,1248.7) -- (712,1248.7);
% ---- measuring ellipses and leads
\node[ell] (e1) at (251.7,93.7) {};
\node[ell] (e2) at (252.7,247) {};
\node[ell] (e3) at (252.3,545.3) {};
\node[ell] (e4) at (251,693.7) {};
\node[ell] (e5) at (252.3,842) {};
\node[ell] (e6) at (252.3,990.7) {};
\node[ell] (e7) at (248.3,1120) {};
\coordinate (fa) at (445,93.7);
\coordinate (fb) at (446,247);
\coordinate (fc) at (444.7,545.3);
\coordinate (fd) at (444.7,693.7);
\coordinate (fe) at (445,842);
\coordinate (ff) at (444.3,990.7);
\coordinate (fg) at (444.3,1120);
\draw[lnk] (e1) -- (fa);
\draw[lnk] (e2) -- (fb);
\draw[lnk] (e3) -- (fc);
\draw[lnk] (e4) -- (fd);
\draw[lnk] (e5) -- (fe);
\draw[lnk] (e6) -- (ff);
\draw[lnk] (e7) -- (fg);
% ---- scatter panels
\hmpanel{4563}{110}{5617}{1503}{8}{8}\hmblob{9000}{5083}{800}{155}{215}\hmdone
\hmpanel{5933}{123}{6973}{1513}{8}{8}\hmblob{9000}{6467}{830}{145}{215}\hmdone
\hmpanel{4557}{1700}{5607}{3107}{5}{5}\hmblob{9000}{5083}{2400}{150}{205}\hmdone
\hmpanel{5930}{1713}{6980}{3120}{7}{7}\hmblob{9000}{6467}{2430}{145}{215}\hmdone
\hmpanel{4527}{4490}{5587}{5903}{8}{8}\hmsig{30}{36}{0}\hmrings{11000}{5050}{5217}{130}{170}{270}{350}{380}{500}\hmdone
\hmpanel{5903}{4517}{6950}{5903}{8}{8}\hmsig{30}{36}{0}\hmrings{11000}{6443}{5217}{150}{180}{270}{370}{380}{520}\hmdone
\hmpanel{4527}{6080}{5590}{7503}{7}{7}\hmsig{28}{34}{0}\hmrings{11000}{5090}{6783}{123}{170}{260}{360}{360}{490}\hmdone
\hmpanel{5893}{6090}{6960}{7517}{5}{5}\hmsig{26}{32}{0}\hmrings{11000}{6460}{6783}{120}{175}{255}{367}{360}{500}\hmdone
\hmpanel{4527}{7717}{5597}{9147}{6}{6}\hmsig{20}{26}{0}\hmrings{12000}{5083}{8450}{167}{217}{340}{467}{467}{650}\hmdone
\hmpanel{5903}{7730}{6967}{9147}{6}{6}\hmsig{20}{26}{0}\hmrings{12000}{6433}{8433}{167}{225}{350}{475}{467}{640}\hmdone
\hmpanel{4520}{9370}{5580}{10780}{7}{7}\hmsig{22}{27}{30}\hmrings{12000}{5073}{10050}{140}{183}{340}{467}{475}{625}\hmdone
\hmpanel{5913}{9377}{6973}{10793}{7}{7}\hmsig{22}{27}{30}\hmrings{12000}{6440}{10067}{140}{183}{350}{467}{460}{590}\hmdone
\hmpanel{4527}{11013}{5587}{12420}{8}{8}\hmgrid{4500}{4660}{11260}{262}{332}\hmdone
\hmpanel{5893}{11007}{6943}{12413}{8}{8}\hmgrid{4500}{6020}{11200}{260}{342}\hmdone
\node[rt,font=\fontSR\fsz{14.4}] (polx) at (502.7,1334) {Polarização X};
\node[rt,font=\fontSR\fsz{14.4}] (poly) at (632.7,1333.3) {Polarização Y};
\end{tikzpicture}
\end{document}
